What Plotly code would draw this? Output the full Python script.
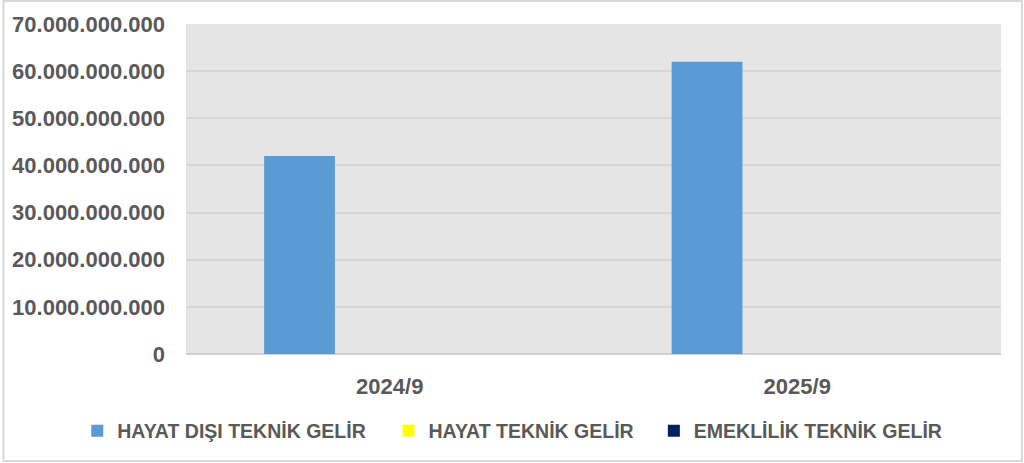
import plotly.graph_objects as go

# categories and series (TL)
donemler = ['2024/9', '2025/9']
hayat_disi = [42.0e9, 62.0e9]
hayat = [0, 0]
emeklilik = [0, 0]

seri_adlari = ['HAYAT DIŞI TEKNİK GELİR', 'HAYAT TEKNİK GELİR', 'EMEKLİLİK TEKNİK GELİR']
renkler = ['#5b9bd5', '#ffff00', '#002060']

y_ticks = [0, 10e9, 20e9, 30e9, 40e9, 50e9, 60e9, 70e9]
y_tick_text = ['0', '10.000.000.000', '20.000.000.000', '30.000.000.000',
               '40.000.000.000', '50.000.000.000', '60.000.000.000', '70.000.000.000']

W, H = 1024, 463
ML, MR, MT, MB = 184, 23, 24, 109
GRAY_TEXT = '#595959'

pw = W - ML - MR
ph = H - MT - MB

# one legend per series so each entry sits where excel put it (left px of entry)
legend_left_px = [75, 387, 653]
legend_keys = ['legend', 'legend2', 'legend3']

fig = go.Figure()
for ad, deger, renk, key in zip(seri_adlari, [hayat_disi, hayat, emeklilik], renkler, legend_keys):
    fig.add_trace(go.Bar(x=donemler, y=deger, name=ad, marker_color=renk,
                         marker_line_width=0, legend=key))

legend_font = dict(size=19.5, family='Liberation Sans, Arial', color=GRAY_TEXT, weight='bold')
legends = {}
for key, px in zip(legend_keys, legend_left_px):
    legends[key] = dict(orientation='h', x=(px - ML) / pw, xanchor='left',
                        y=-(431 - MT - ph) / ph, yanchor='middle',
                        font=legend_font, bgcolor='rgba(0,0,0,0)')

fig.update_layout(
    width=W, height=H,
    margin=dict(l=ML, r=MR, t=MT, b=MB),
    paper_bgcolor='white',
    plot_bgcolor='#e5e5e5',
    barmode='group',
    bargap=0.336,
    bargroupgap=0.215,
    font=dict(family='Liberation Sans, Arial, sans-serif', color=GRAY_TEXT),
    showlegend=True,
    **legends,
)

fig.update_yaxes(range=[0, 70e9], tickvals=y_ticks, ticktext=y_tick_text,
                 tickfont=dict(size=22, weight='bold', color=GRAY_TEXT),
                 gridcolor='#d6d6d6', gridwidth=2, zeroline=True,
                 zerolinecolor='#d0d0d0', zerolinewidth=2,
                 ticklabelstandoff=20, showline=False)
fig.update_xaxes(tickfont=dict(size=22, weight='bold', color=GRAY_TEXT),
                 ticklabelstandoff=17, showline=False, showgrid=False)

# light outer frame like the pasted excel chart
fig.add_shape(type='rect', xref='paper', yref='paper',
              x0=(1 - ML) / pw, x1=(W - 2 - ML) / pw,
              y0=-(H - 2 - MT - ph) / ph, y1=1 + (MT - 1) / ph,
              line=dict(color='#d9d9d9', width=2), fillcolor='rgba(0,0,0,0)',
              layer='below')

fig.write_html("out.html", config={'displayModeBar': False},
               post_script="document.body.style.margin='0';")
